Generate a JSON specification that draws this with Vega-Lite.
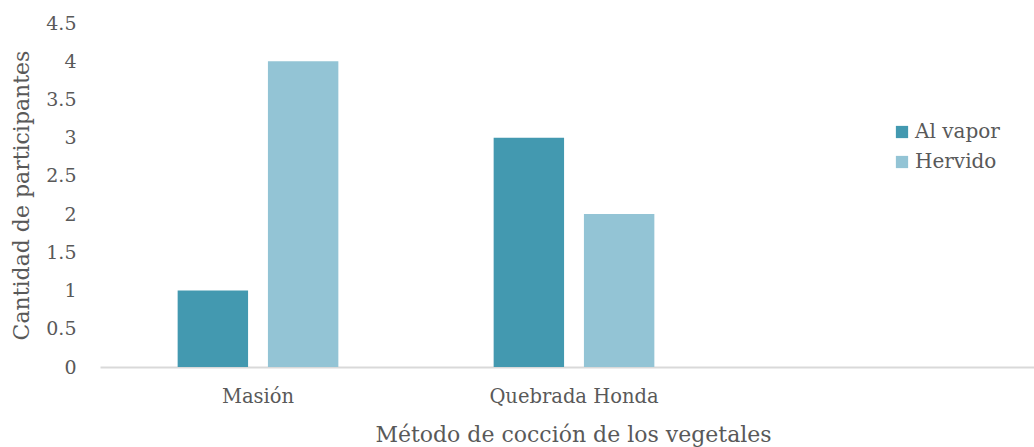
{
  "$schema": "https://vega.github.io/schema/vega-lite/v6.json",
  "autosize": {"type": "none"},
  "width": 934,
  "height": 344,
  "padding": {"left": 100, "top": 23, "right": 0, "bottom": 80},
  "background": "white",
  "config": {
    "view": {"stroke": null},
    "font": "DejaVu Serif"
  },
  "data": {
    "values": [
      {"lugar": "Masión", "metodo": "Al vapor", "cantidad": 1},
      {"lugar": "Masión", "metodo": "Hervido", "cantidad": 4},
      {"lugar": "Quebrada Honda", "metodo": "Al vapor", "cantidad": 3},
      {"lugar": "Quebrada Honda", "metodo": "Hervido", "cantidad": 2}
    ]
  },
  "mark": {"type": "bar"},
  "encoding": {
    "x": {
      "field": "lugar",
      "type": "nominal",
      "scale": {"domain": ["Masión", "Quebrada Honda", " "], "range": [0, 948], "paddingInner": 0, "paddingOuter": 0},
      "axis": {
        "title": "Método de cocción de los vegetales",
        "titleFontSize": 22,
        "titleFontWeight": "normal",
        "titleColor": "#595959",
        "titleX": 473,
        "titlePadding": 19,
        "labelAngle": 0,
        "labelFontSize": 19.5,
        "labelColor": "#595959",
        "labelPadding": 20,
        "ticks": false,
        "domainColor": "#d9d9d9",
        "domainWidth": 2
      }
    },
    "xOffset": {
      "field": "metodo",
      "type": "nominal",
      "scale": {"paddingInner": 0.22, "paddingOuter": 0.86}
    },
    "y": {
      "field": "cantidad",
      "type": "quantitative",
      "scale": {"domain": [0, 4.5]},
      "axis": {
        "values": [0, 0.5, 1, 1.5, 2, 2.5, 3, 3.5, 4, 4.5],
        "format": "~g",
        "title": "Cantidad de participantes",
        "titleFontSize": 22,
        "titleFontWeight": "normal",
        "titleColor": "#595959",
        "titlePadding": 12,
        "labelFontSize": 19,
        "labelColor": "#595959",
        "labelPadding": 24,
        "ticks": false,
        "domain": false,
        "grid": false
      }
    },
    "color": {
      "field": "metodo",
      "type": "nominal",
      "scale": {"domain": ["Al vapor", "Hervido"], "range": ["#4399B0", "#93C4D5"]},
      "legend": {
        "title": null,
        "orient": "none",
        "legendX": 792,
        "legendY": 99,
        "symbolType": "square",
        "symbolSize": 150,
        "symbolOpacity": 1,
        "labelFontSize": 20,
        "labelColor": "#595959",
        "rowPadding": 10,
        "labelOffset": 3
      }
    }
  }
}
